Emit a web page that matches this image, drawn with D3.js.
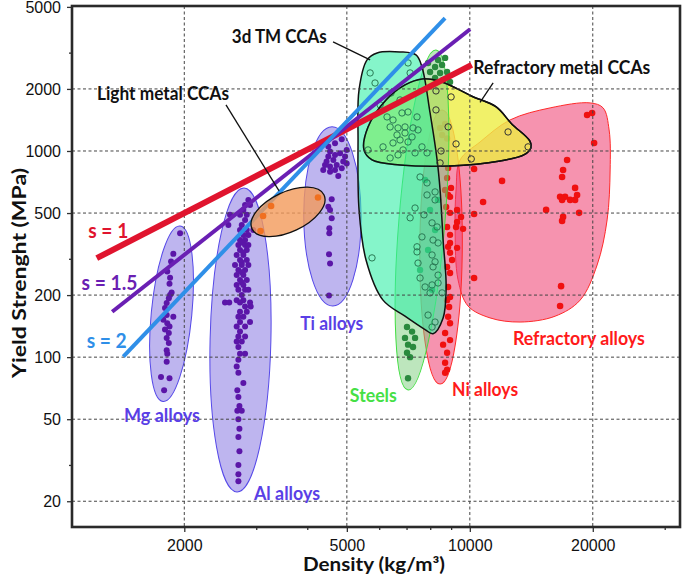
<!DOCTYPE html>
<html><head><meta charset="utf-8">
<script src="https://cdn.jsdelivr.net/npm/d3@7"></script>
<style>body{margin:0;background:#fff}svg{display:block}</style>
</head><body>
<svg id="c" width="685" height="577"></svg>
<script>
// ---------- DATA ----------
const xMajorTicks=[2000,5000,10000,20000];
const xMinorTicks=[3000,4000,6000,7000,8000,9000,30000];
const yMajorTicks=[20,50,100,200,500,1000,2000,5000];
const yMinorTicks=[30,300,3000];

const mgAlloys=[[1953,399],[1880,317],[1856,291],[1817,260],[1846,243],[1840,227],[1862,206],[1846,200],[1833,193],[1811,183],[1794,173],[1811,160],[1880,157],[1777,152],[1817,146],[1840,141],[1794,136],[1833,131],[1811,124],[1833,117],[1811,108],[1817,104],[1811,95],[1754,80],[1840,79],[1785,69]];
const alAlloys=[[2870,579],[2817,547],[2897,547],[2790,518],[2588,490],[2738,490],[2844,490],[2817,463],[2564,438],[2765,438],[2738,414],[2844,414],[2951,414],[2790,391],[2870,391],[2738,370],[2817,370],[2765,360],[2713,350],[2817,350],[2870,350],[2738,331],[2844,331],[2790,322],[2687,313],[2790,313],[2738,296],[2844,296],[2765,288],[2662,280],[2765,280],[2870,280],[2713,265],[2817,265],[2765,258],[2687,250],[2790,250],[2738,237],[2844,237],[2765,230],[2687,224],[2790,224],[2713,212],[2817,212],[2870,212],[2765,200],[2687,189],[2790,189],[2516,184],[2577,184],[2738,184],[2897,184],[2817,176],[2908,176],[2738,166],[2844,166],[2713,157],[2790,157],[2738,148],[2897,148],[2687,141],[2817,141],[2738,133],[2713,126],[2817,126],[2687,119],[2765,119],[2713,112],[2738,104],[2817,104],[2713,97],[2687,90],[2713,84],[2790,75],[2697,69],[2713,64],[2729,58],[2697,55],[2765,55],[2713,50],[2729,45],[2713,41],[2729,35],[2713,30],[2713,27],[2713,25]];
const tiAlloys=[[4858,1140],[4677,1091],[4504,1050],[4996,1012],[4548,993],[4677,957],[4812,975],[4504,939],[4633,905],[4900,888],[4421,856],[4548,840],[4722,856],[4858,825],[4377,809],[4548,794],[4677,809],[4764,757],[4950,939],[4996,870],[4460,888],[4591,583],[4504,537],[4548,518],[4591,472],[4529,422],[4529,399],[4522,316],[4548,285],[4522,199]];
const lightCCAs=[[3262,541],[3118,484],[3074,409],[4250,595]];
const steels=[[8221,2557],[8553,2615],[7993,2418],[8457,2391],[8798,2418],[8221,2262],[8602,2211],[8946,2162],[7903,2674],[8362,2765],[8700,2828],[7771,724],[7993,518],[8221,414],[7903,331],[7554,265],[8083,212],[8362,579],[7019,140],[7221,133],[6940,124],[7344,124],[7059,115],[7261,112],[7019,105],[7140,100],[7059,79]];
const niAlloys=[[8457,1294],[8700,1353],[8553,1196],[8800,1150],[8849,828],[8798,740],[8996,662],[8700,647],[8849,612],[8946,599],[8750,535],[9307,518],[8946,501],[9520,479],[9307,453],[9628,419],[8798,428],[9253,428],[8946,392],[8946,358],[9307,339],[8849,343],[8946,321],[9048,296],[8798,274],[8946,256],[8849,219],[8946,196],[8798,189],[8898,175],[8849,157],[8946,146],[8700,131],[8946,121],[8602,115],[8798,105],[8700,94],[8798,87],[8700,84]];
const refractoryAlloys=[[19372,1496],[19925,1529],[20151,1094],[17303,905],[16917,809],[16823,748],[11992,716],[10243,818],[18103,662],[18308,612],[16634,599],[17109,599],[17601,579],[18103,579],[16823,579],[10777,566],[15373,518],[18516,501],[10243,495],[16917,479],[16823,458],[10243,242],[16727,221],[16634,177]];
const tmCCAs=[[5701,2391],[5861,2137],[7059,2674],[7143,2391],[6414,1912],[6032,1673],[6749,1768],[6271,1463],[6486,1414],[6823,1529],[7059,1546],[7426,1463],[6381,1308],[6672,1294],[6940,1308],[7261,1294],[6634,1196],[6940,1223],[7221,1170],[7468,1265],[6131,1047],[5634,1012],[6749,1131],[7059,1106],[6486,1094],[7636,1047],[6863,1012],[6381,925],[6672,957],[7344,979],[7857,979],[7554,748],[7857,700],[8221,633],[7857,612],[8221,579],[7344,529],[7143,474],[7724,490],[8083,448],[8316,428],[7636,383],[7426,343],[8128,370],[8362,358],[7426,324],[8083,313],[8221,290],[7468,286],[8128,274],[7554,242],[8362,250],[7771,219],[8083,224],[8362,229],[7993,205],[8553,205],[7903,160],[8221,148],[8083,140],[5762,303]];
const refractoryCCAs=[[8264,1956],[8998,1829],[8264,1582],[8849,1309],[9253,1082],[8503,1000],[8457,875],[10081,915],[12406,1237],[13888,1047]];

// envelopes (major-axis end points, density / MPa)
const mgEnvelope=[[1953,433],[1774,61]];
const alEnvelope=[[2800,662],[2692,22.2]];
const tiEnvelope=[[4600,1310],[4620,177]];
const lightEnvelope=[[2930,419],[4397,612]];
const steelEnvelope=[[8264,3092],[7059,69.3]];
const niEnvelope=[[8551,1582],[8456,74]];
// hull outlines (density / MPa)
const tmHull=[[5603,2765],[5929,2990],[6749,3023],[7382,2924],[7636,2557],[7993,1529],[8316,905],[8457,647],[8602,370],[8750,219],[8602,155],[8128,130],[7771,136],[6940,158],[6131,189],[5571,296],[5356,518],[5326,1131],[5356,1978]];
const refCCAHull=[[5508,1012],[5634,1308],[6235,1768],[6940,2092],[7636,2237],[8553,2163],[10081,1849],[11605,1636],[12665,1353],[14021,1119],[14102,1035],[13557,957],[11864,895],[8946,846],[6749,856],[5762,905]];
const refHull=[[9467,905],[10595,1106],[12549,1415],[15724,1618],[19700,1711],[21199,1618],[21930,1265],[22055,809],[21683,463],[20497,280],[18621,189],[16175,158],[13274,148],[11209,155],[9902,177],[9359,237],[9203,414],[9253,647]];
// scaling lines
const sLines=[{label:"s = 1",pts:[[1221,302],[10108,2615]]},{label:"s = 1.5",pts:[[1332,166],[10014,3896]]},{label:"s = 2",pts:[[1418,100.6],[8697,4406]]}];
const leaders=[[[4626,3381],[5701,2765]],[[11404,2138],[10595,1720]],[[2530,1673],[3412,640]]];
const labels=[
 ["3d TM CCAs",3417,3627],["Refractory metal CCAs",16794,2566],["Light metal CCAs",1774,1906],
 ["s = 1",1303,414],["s = 1.5",1312,232],["s = 2",1291,122],
 ["Mg alloys",1764,52.4],["Al alloys",3568,22.0],["Ti alloys",4591,147],["Steels",5805,65.6],
 ["Ni alloys",10898,69.9],["Refractory alloys",18493,124]];

// ---------- STYLE ----------
const labelStyle={
 "3d TM CCAs":{c:"#111",w:95,fs:18},"Refractory metal CCAs":{c:"#111",w:177,fs:18},"Light metal CCAs":{c:"#111",w:132,fs:18},
 "s = 1":{c:"#e0142e",w:40,fs:21},"s = 1.5":{c:"#6a1fb3",w:56,fs:21},"s = 2":{c:"#2f8fe8",w:40,fs:21},
 "Mg alloys":{c:"#5a3fe6",w:76,fs:18},"Al alloys":{c:"#5a3fe6",w:66,fs:18},"Ti alloys":{c:"#5a3fe6",w:63,fs:18},
 "Steels":{c:"#45e045",w:47,fs:18},"Ni alloys":{c:"#ff1a1a",w:66,fs:18},"Refractory alloys":{c:"#ff1a1a",w:132,fs:18}};
const lineStyle={"s = 1":{c:"#e0142e",w:6},"s = 1.5":{c:"#6a1fb3",w:4},"s = 2":{c:"#2f8fe8",w:4}};

// ---------- CHART ----------
const svg=d3.select("#c");
const L=72,R=680,T=6,B=527;
const x=d3.scaleLog().domain([1062,32700]).range([L,R]);
const y=d3.scaleLog().domain([15,5050]).range([B,T]);
const closed=d3.line().x(d=>x(d[0])).y(d=>y(d[1])).curve(d3.curveCatmullRomClosed.alpha(0.5));
const g=svg.append("g");

function ellipse(par,env,ratio){
  const ax=x(env[0][0]),ay=y(env[0][1]),bx=x(env[1][0]),by=y(env[1][1]);
  const cx=(ax+bx)/2,cy=(ay+by)/2,a=Math.hypot(bx-ax,by-ay)/2,ang=Math.atan2(by-ay,bx-ax)*180/Math.PI;
  return par.append("ellipse").attr("cx",cx).attr("cy",cy).attr("rx",a).attr("ry",a*ratio)
    .attr("transform",`rotate(${ang},${cx},${cy})`);
}
function dots(par,data,r,fill,stroke){
  par.append("g").selectAll("circle").data(data).join("circle")
   .attr("cx",d=>x(d[0])).attr("cy",d=>y(d[1])).attr("r",r)
   .attr("fill",fill).attr("stroke",stroke||"none").attr("stroke-width",1);
}
// refractory alloys
g.append("path").attr("d",closed(refHull)).attr("fill","#ee3a6e").attr("fill-opacity",0.55).attr("stroke","#ff2a2a").attr("stroke-width",1);
dots(g,refractoryAlloys,3.3,"#f01010");
// Ni alloys
ellipse(g,niEnvelope,0.155).attr("fill","#ee3a6e").attr("fill-opacity",0.55).attr("stroke","#ff2a2a").attr("stroke-width",1);
dots(g,niAlloys,3.2,"#f01010");
// light alloys
[[mgEnvelope,0.23],[alEnvelope,0.2],[tiEnvelope,0.32]].forEach(([e,r])=>{
  ellipse(g,e,r).attr("fill","#7d6be0").attr("fill-opacity",0.5).attr("stroke","#5548e8").attr("stroke-width",1);
});
dots(g,mgAlloys,3,"#5b16a8");
dots(g,alAlloys,3,"#5b16a8");
dots(g,tiAlloys,3,"#5b16a8");
// refractory CCAs (yellow)
g.append("path").attr("d",closed(refCCAHull)).attr("fill","#eeee44").attr("fill-opacity",0.8).attr("stroke","#111").attr("stroke-width",1.5);
// steels
ellipse(g,steelEnvelope,0.135).attr("fill","#7ccd7c").attr("fill-opacity",0.5).attr("stroke","#40dd40").attr("stroke-width",1);
dots(g,steels,3.2,"#2a8a3e");
// 3d TM CCAs
g.append("path").attr("d",closed(tmHull)).attr("fill","#34eea6").attr("fill-opacity",0.6).attr("stroke","#111").attr("stroke-width",1.5);
dots(g,tmCCAs,3.2,"none","#2a7a55");
g.append("path").attr("d",closed(refCCAHull)).attr("fill","none").attr("stroke","#111").attr("stroke-width",1.5);
dots(g,refractoryCCAs,3.2,"none","#333");

// grid
const grid=svg.append("g").attr("stroke","#444").attr("stroke-width",1).attr("stroke-dasharray","3,2.5");
grid.selectAll("line.v").data(xMajorTicks).join("line").attr("x1",d=>x(d)).attr("x2",d=>x(d)).attr("y1",T).attr("y2",B);
grid.selectAll("line.h").data(yMajorTicks.filter(d=>d<5000)).join("line").attr("y1",d=>y(d)).attr("y2",d=>y(d)).attr("x1",L).attr("x2",R);

// scaling lines
const ln=d3.line().x(d=>x(d[0])).y(d=>y(d[1]));
svg.append("g").selectAll("path").data(sLines).join("path").attr("d",d=>ln(d.pts))
  .attr("stroke",d=>lineStyle[d.label].c).attr("stroke-width",d=>lineStyle[d.label].w).attr("fill","none");

// light metal CCAs
ellipse(svg,lightEnvelope,0.5).attr("fill","#f39a5a").attr("fill-opacity",0.8).attr("stroke","#111").attr("stroke-width",1.3);
dots(svg,lightCCAs,3.3,"#f07020");

// leaders
svg.append("g").selectAll("path").data(leaders).join("path").attr("d",d=>ln(d)).attr("stroke","#111").attr("stroke-width",1.3).attr("fill","none");

// labels
svg.append("g").selectAll("text").data(labels).join("text")
 .attr("x",d=>x(d[1])).attr("y",d=>y(d[2])).attr("text-anchor","middle").attr("dominant-baseline","central")
 .attr("font-family","Lato, 'Open Sans', sans-serif").attr("font-weight","bold")
 .attr("font-size",d=>labelStyle[d[0]].fs).attr("fill",d=>labelStyle[d[0]].c)
 .attr("textLength",d=>labelStyle[d[0]].w).attr("lengthAdjust","spacingAndGlyphs").text(d=>d[0]);

// axes
const fmt=d3.format("d");
const ax=svg.append("g").attr("transform",`translate(0,${B})`).call(d3.axisBottom(x).tickValues(xMajorTicks).tickFormat(fmt).tickSize(5).tickPadding(8));
const axm=svg.append("g").attr("transform",`translate(0,${B})`).call(d3.axisBottom(x).tickValues(xMinorTicks).tickFormat("").tickSize(3));
const ay=svg.append("g").attr("transform",`translate(${L},0)`).call(d3.axisLeft(y).tickValues(yMajorTicks).tickFormat(fmt).tickSize(5).tickPadding(5));
const aym=svg.append("g").attr("transform",`translate(${L},0)`).call(d3.axisLeft(y).tickValues(yMinorTicks).tickFormat("").tickSize(3));
[ax,axm,ay,aym].forEach(a=>{a.select(".domain").remove();a.selectAll("line").attr("stroke","#333").attr("stroke-width",1.3);
  a.selectAll("text").attr("font-family","'Liberation Sans', Arial, sans-serif").attr("font-size",16).attr("fill","#111");});
ay.selectAll("text").attr("dx","-1");
// frame
svg.append("rect").attr("x",L).attr("y",T).attr("width",R-L).attr("height",B-T).attr("fill","none").attr("stroke","#2a2a2a").attr("stroke-width",2.6);

// titles
svg.append("text").attr("x",374).attr("y",571).attr("text-anchor","middle")
 .attr("font-family","Lato, sans-serif").attr("font-weight","bold").attr("font-size",18).attr("fill","#111")
 .attr("textLength",142).attr("lengthAdjust","spacingAndGlyphs").text("Density (kg/m³)");
svg.append("text").attr("transform","translate(18,273) rotate(-90)").attr("text-anchor","middle").attr("dominant-baseline","central")
 .attr("font-family","Lato, sans-serif").attr("font-weight","bold").attr("font-size",19).attr("fill","#111")
 .attr("textLength",210).attr("lengthAdjust","spacingAndGlyphs").text("Yield Strenght (MPa)");
</script>
</body></html>
